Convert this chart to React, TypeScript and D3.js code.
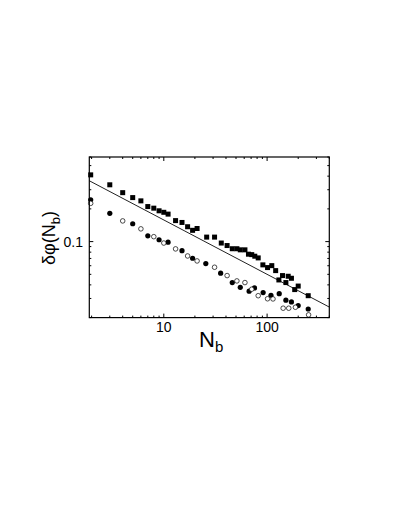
import React from "react";
import * as d3 from "d3";

const squaresN = [1.96, 3, 4, 5, 6, 7, 8, 9, 10, 11, 13, 15, 17, 19, 21, 26, 31, 36, 41, 46, 51, 55, 61, 66, 71, 76, 82, 91, 101, 111, 121, 130, 141, 152, 160, 172, 185, 200, 250];
const squaresV = [0.411, 0.333, 0.282, 0.254, 0.237, 0.21, 0.203, 0.192, 0.186, 0.179, 0.156, 0.15, 0.137, 0.127, 0.132, 0.11, 0.11, 0.097, 0.092, 0.086, 0.086, 0.084, 0.084, 0.0766, 0.0759, 0.0734, 0.0708, 0.0611, 0.0577, 0.0601, 0.0541, 0.0444, 0.0487, 0.042, 0.048, 0.046, 0.0362, 0.039, 0.0318];

const filledN = [1.96, 3, 5, 7, 9, 11, 15, 19, 25.5, 35.5, 46, 55, 67, 75.5, 91.5, 109, 131, 152, 172, 200, 250];
const filledV = [0.242, 0.182, 0.146, 0.113, 0.104, 0.0987, 0.0826, 0.0703, 0.0628, 0.0512, 0.042, 0.038, 0.035, 0.0375, 0.034, 0.0321, 0.0332, 0.0289, 0.0279, 0.0258, 0.024];

const openN = [1.96, 4, 6, 8, 10, 13, 17, 21, 31, 41, 51, 61, 71, 82, 101, 114, 143, 162, 188, 252];
const openV = [0.225, 0.155, 0.131, 0.111, 0.097, 0.0857, 0.0738, 0.0664, 0.0581, 0.0487, 0.0435, 0.042, 0.0365, 0.0318, 0.0298, 0.0297, 0.0244, 0.0244, 0.0249, 0.0212];

const fitN = [1.9, 400];
const fitA = 0.5;
const fitExp = -0.5;

const xDomain = [1.9, 400];
const yDomain = [0.02, 0.6];
const xMajor = [10, 100];
const xMinor = [2, 3, 4, 5, 6, 7, 8, 9, 20, 30, 40, 50, 60, 70, 80, 90, 200, 300, 400];
const yMajor = [0.1];
const yMinor = [0.02, 0.03, 0.04, 0.05, 0.06, 0.07, 0.08, 0.09, 0.2, 0.3, 0.4, 0.5, 0.6];

export default function App() {
  const L = 89.3, R = 329.3, T = 157, B = 317.6;
  const x = d3.scaleLog().domain(xDomain).range([L, R]);
  const y = d3.scaleLog().domain(yDomain).range([B, T]);
  const line = d3.line<number>().x((n) => x(n)).y((n) => y(fitA * Math.pow(n, fitExp)));
  const font = "'Liberation Sans', Arial, sans-serif";
  const sq = 5;
  return (
    <svg width={409} height={529} style={{ position: "absolute", left: 0, top: 0, background: "#fff" }} fontFamily={font}>
      <rect x={0} y={0} width={409} height={529} fill="#fff" />
      <g stroke="#000" strokeWidth={1}>
        {xMajor.map((t) => (
          <g key={"xM" + t}>
            <line x1={x(t)} x2={x(t)} y1={B} y2={B - 4} />
            <line x1={x(t)} x2={x(t)} y1={T} y2={T + 4} />
          </g>
        ))}
        {xMinor.map((t) => (
          <g key={"xm" + t}>
            <line x1={x(t)} x2={x(t)} y1={B} y2={B - 2} />
            <line x1={x(t)} x2={x(t)} y1={T} y2={T + 2} />
          </g>
        ))}
        {yMajor.map((t) => (
          <g key={"yM" + t}>
            <line x1={L} x2={L + 4} y1={y(t)} y2={y(t)} />
            <line x1={R} x2={R - 4} y1={y(t)} y2={y(t)} />
          </g>
        ))}
        {yMinor.map((t) => (
          <g key={"ym" + t}>
            <line x1={L} x2={L + 2} y1={y(t)} y2={y(t)} />
            <line x1={R} x2={R - 2} y1={y(t)} y2={y(t)} />
          </g>
        ))}
      </g>
      <path d={line(fitN) || ""} fill="none" stroke="#222" strokeWidth={1} />
      {squaresN.map((n, i) => (
        <rect key={"s" + i} x={x(n) - sq / 2} y={y(squaresV[i]) - sq / 2} width={sq} height={sq} fill="#000" />
      ))}
      {filledN.map((n, i) => (
        <circle key={"f" + i} cx={x(n)} cy={y(filledV[i])} r={2.6} fill="#000" />
      ))}
      {openN.map((n, i) => (
        <circle key={"o" + i} cx={x(n)} cy={y(openV[i])} r={2.3} fill="#fff" stroke="#000" strokeWidth={0.7} />
      ))}
      <rect x={L} y={T} width={R - L} height={B - T} fill="none" stroke="#000" strokeWidth={1.2} />
      {xMajor.map((t) => (
        <text key={"xl" + t} x={x(t)} y={332} textAnchor="middle" fontSize={14}>
          {t}
        </text>
      ))}
      {yMajor.map((t) => (
        <text key={"yl" + t} x={83} y={y(t) + 5} textAnchor="end" fontSize={14}>
          {t}
        </text>
      ))}
      <text x={199} y={347} fontSize={22}>
        N<tspan fontSize={15} dy={5}>b</tspan>
      </text>
      <text transform={`translate(55,238) rotate(-90)`} textAnchor="middle" fontSize={18}>
        δφ(N<tspan fontSize={13} dy={5}>b</tspan>
        <tspan dy={-5}>)</tspan>
      </text>
    </svg>
  );
}
